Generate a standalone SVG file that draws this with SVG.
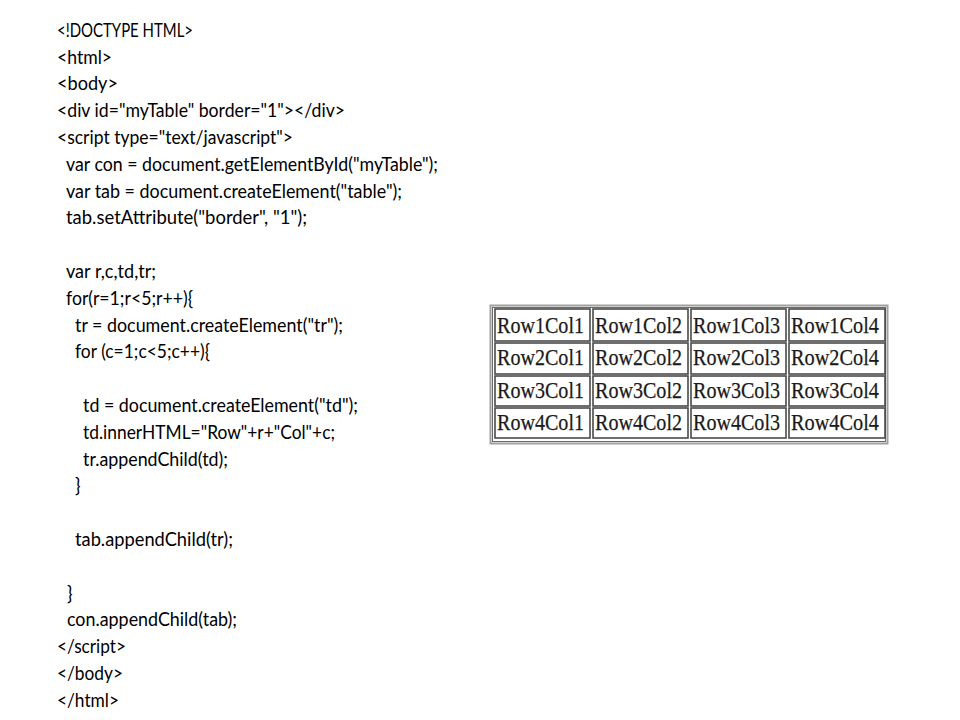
<svg xmlns="http://www.w3.org/2000/svg" width="960" height="720" viewBox="0 0 960 720">
<style>
.code{font-family:Lato,"Open Sans","Liberation Sans",sans-serif;font-size:18.5px;fill:#000}
.cell{fill:#fff;stroke:#4a4a4a;stroke-width:1.6}
.ct{font-family:"Liberation Serif","Times New Roman",serif;font-size:24px;fill:#1a1a1a;stroke:#1a1a1a;stroke-width:0.25}
</style>
<rect width="960" height="720" fill="#fff"/>
<g id="code">
<text class="code" x="57" y="36.7" textLength="136" lengthAdjust="spacingAndGlyphs">&lt;!DOCTYPE HTML&gt;</text>
<text class="code" x="57" y="63.5" textLength="55" lengthAdjust="spacingAndGlyphs">&lt;html&gt;</text>
<text class="code" x="57" y="90.3" textLength="61" lengthAdjust="spacingAndGlyphs">&lt;body&gt;</text>
<text class="code" x="57" y="117.1" textLength="288" lengthAdjust="spacingAndGlyphs">&lt;div id="myTable" border="1"&gt;&lt;/div&gt;</text>
<text class="code" x="57" y="143.9" textLength="236" lengthAdjust="spacingAndGlyphs">&lt;script type="text/javascript"&gt;</text>
<text class="code" x="66" y="170.7" textLength="372" lengthAdjust="spacingAndGlyphs">var con = document.getElementById("myTable");</text>
<text class="code" x="66" y="197.5" textLength="336" lengthAdjust="spacingAndGlyphs">var tab = document.createElement("table");</text>
<text class="code" x="66" y="224.3" textLength="241" lengthAdjust="spacingAndGlyphs">tab.setAttribute("border", "1");</text>
<text class="code" x="66" y="277.9" textLength="90" lengthAdjust="spacingAndGlyphs">var r,c,td,tr;</text>
<text class="code" x="66" y="304.7" textLength="127" lengthAdjust="spacingAndGlyphs">for(r=1;r&lt;5;r++){</text>
<text class="code" x="75" y="331.5" textLength="268" lengthAdjust="spacingAndGlyphs">tr = document.createElement("tr");</text>
<text class="code" x="75" y="358.3" textLength="135" lengthAdjust="spacingAndGlyphs">for (c=1;c&lt;5;c++){</text>
<text class="code" x="83" y="411.9" textLength="275" lengthAdjust="spacingAndGlyphs">td = document.createElement("td");</text>
<text class="code" x="83" y="438.7" textLength="252" lengthAdjust="spacingAndGlyphs">td.innerHTML="Row"+r+"Col"+c;</text>
<text class="code" x="83" y="465.5" textLength="145" lengthAdjust="spacingAndGlyphs">tr.appendChild(td);</text>
<text class="code" x="75" y="492.3">}</text>
<text class="code" x="75" y="545.9" textLength="158" lengthAdjust="spacingAndGlyphs">tab.appendChild(tr);</text>
<text class="code" x="67" y="599.5">}</text>
<text class="code" x="67" y="626.3" textLength="170" lengthAdjust="spacingAndGlyphs">con.appendChild(tab);</text>
<text class="code" x="57" y="653.1" textLength="69" lengthAdjust="spacingAndGlyphs">&lt;/script&gt;</text>
<text class="code" x="57" y="679.9" textLength="66" lengthAdjust="spacingAndGlyphs">&lt;/body&gt;</text>
<text class="code" x="57" y="706.7" textLength="62" lengthAdjust="spacingAndGlyphs">&lt;/html&gt;</text>
</g>
<g id="table">
<rect x="490.5" y="305.5" width="397" height="138" fill="#fff" stroke="#a0a0a0" stroke-width="2"/>
<rect x="492.5" y="307.5" width="393" height="134" fill="none" stroke="#6a6a6a" stroke-width="1"/>
<g id="row1">
<rect class="cell" x="495" y="309" width="95" height="32"/>
<rect class="cell" x="593" y="309" width="95" height="32"/>
<rect class="cell" x="691" y="309" width="95" height="32"/>
<rect class="cell" x="789" y="309" width="96" height="32"/>
<text class="ct" x="497" y="333" textLength="87" lengthAdjust="spacingAndGlyphs">Row1Col1</text>
<text class="ct" x="595" y="333" textLength="87" lengthAdjust="spacingAndGlyphs">Row1Col2</text>
<text class="ct" x="693" y="333" textLength="87" lengthAdjust="spacingAndGlyphs">Row1Col3</text>
<text class="ct" x="791" y="333" textLength="88" lengthAdjust="spacingAndGlyphs">Row1Col4</text>
</g>
<g id="row2">
<rect class="cell" x="495" y="343" width="95" height="31"/>
<rect class="cell" x="593" y="343" width="95" height="31"/>
<rect class="cell" x="691" y="343" width="95" height="31"/>
<rect class="cell" x="789" y="343" width="96" height="31"/>
<text class="ct" x="497" y="365" textLength="87" lengthAdjust="spacingAndGlyphs">Row2Col1</text>
<text class="ct" x="595" y="365" textLength="87" lengthAdjust="spacingAndGlyphs">Row2Col2</text>
<text class="ct" x="693" y="365" textLength="87" lengthAdjust="spacingAndGlyphs">Row2Col3</text>
<text class="ct" x="791" y="365" textLength="88" lengthAdjust="spacingAndGlyphs">Row2Col4</text>
</g>
<g id="row3">
<rect class="cell" x="495" y="376" width="95" height="30"/>
<rect class="cell" x="593" y="376" width="95" height="30"/>
<rect class="cell" x="691" y="376" width="95" height="30"/>
<rect class="cell" x="789" y="376" width="96" height="30"/>
<text class="ct" x="497" y="398" textLength="87" lengthAdjust="spacingAndGlyphs">Row3Col1</text>
<text class="ct" x="595" y="398" textLength="87" lengthAdjust="spacingAndGlyphs">Row3Col2</text>
<text class="ct" x="693" y="398" textLength="87" lengthAdjust="spacingAndGlyphs">Row3Col3</text>
<text class="ct" x="791" y="398" textLength="88" lengthAdjust="spacingAndGlyphs">Row3Col4</text>
</g>
<g id="row4">
<rect class="cell" x="495" y="408" width="95" height="30"/>
<rect class="cell" x="593" y="408" width="95" height="30"/>
<rect class="cell" x="691" y="408" width="95" height="30"/>
<rect class="cell" x="789" y="408" width="96" height="30"/>
<text class="ct" x="497" y="430" textLength="87" lengthAdjust="spacingAndGlyphs">Row4Col1</text>
<text class="ct" x="595" y="430" textLength="87" lengthAdjust="spacingAndGlyphs">Row4Col2</text>
<text class="ct" x="693" y="430" textLength="87" lengthAdjust="spacingAndGlyphs">Row4Col3</text>
<text class="ct" x="791" y="430" textLength="88" lengthAdjust="spacingAndGlyphs">Row4Col4</text>
</g>
</g>
</svg>
